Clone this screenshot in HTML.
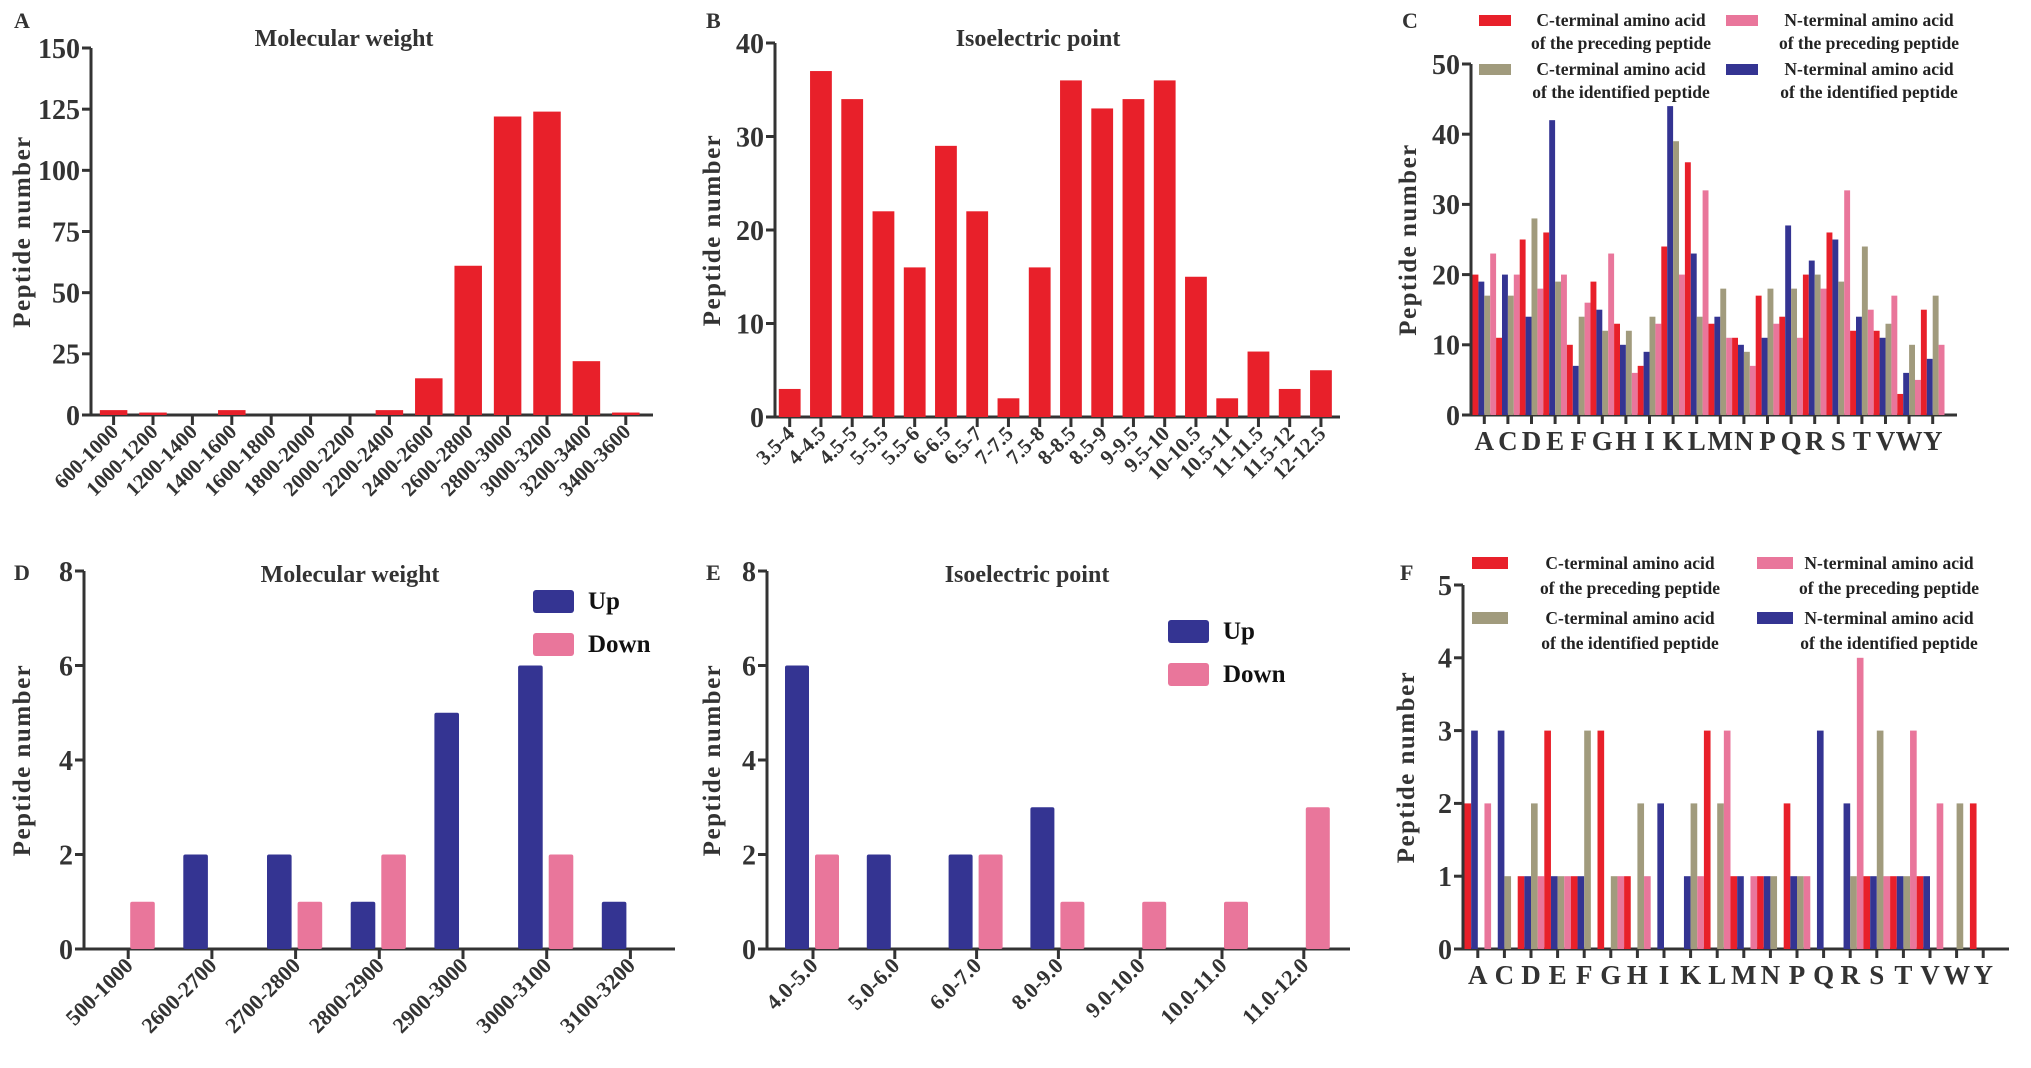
<!DOCTYPE html>
<html><head><meta charset="utf-8"><style>
html,body{margin:0;padding:0;background:#fff;}
svg{display:block;font-family:"Liberation Serif",serif;font-weight:bold;}
</style></head><body>
<svg id="fig" width="2031" height="1068" viewBox="0 0 2031 1068" xmlns="http://www.w3.org/2000/svg"></svg>
<script>
// Panel A
const catsA = ["600-1000","1000-1200","1200-1400","1400-1600","1600-1800","1800-2000","2000-2200","2200-2400","2400-2600","2600-2800","2800-3000","3000-3200","3200-3400","3400-3600"];
const valsA = [2,1,0,2,0,0,0,2,15,61,122,124,22,1];
const ticksA = [0,25,50,75,100,125,150];
// Panel B
const catsB = ["3.5-4","4-4.5","4.5-5","5-5.5","5.5-6","6-6.5","6.5-7","7-7.5","7.5-8","8-8.5","8.5-9","9-9.5","9.5-10","10-10.5","10.5-11","11-11.5","11.5-12","12-12.5"];
const valsB = [3,37,34,22,16,29,22,2,16,36,33,34,36,15,2,7,3,5];
const ticksB = [0,10,20,30,40];
// Panel C (amino acids)
const aa = ["A","C","D","E","F","G","H","I","K","L","M","N","P","Q","R","S","T","V","W","Y"];
const cPrecC = [20,11,25,26,10,19,13,7,24,36,13,11,17,14,20,26,12,12,3,15];
const cIdentN = [19,20,14,42,7,15,10,9,44,23,14,10,11,27,22,25,14,11,6,8];
const cIdentC = [17,17,28,19,14,12,12,14,39,14,18,9,18,18,20,19,24,13,10,17];
const cPrecN = [23,20,18,20,16,23,6,13,20,32,11,7,13,11,18,32,15,17,5,10];
const ticksC = [0,10,20,30,40,50];
// Panel D
const catsD = ["500-1000","2600-2700","2700-2800","2800-2900","2900-3000","3000-3100","3100-3200"];
const upD = [0,2,2,1,5,6,1];
const downD = [1,0,1,2,0,2,0];
// Panel E
const catsE = ["4.0-5.0","5.0-6.0","6.0-7.0","8.0-9.0","9.0-10.0","10.0-11.0","11.0-12.0"];
const upE = [6,2,2,3,0,0,0];
const downE = [2,0,2,1,1,1,3];
const ticksDE = [0,2,4,6,8];
// Panel F
const fPrecC = [2,0,1,3,1,3,1,0,0,3,1,1,2,0,0,1,1,1,0,2];
const fIdentN = [3,3,1,1,1,0,0,2,1,0,1,1,1,3,2,1,1,1,0,0];
const fIdentC = [0,1,2,1,3,1,2,0,2,2,0,1,1,0,1,3,1,0,2,0];
const fPrecN = [2,0,1,1,0,1,1,0,1,3,1,0,1,0,4,1,3,2,0,0];
const ticksF = [0,1,2,3,4,5];

const RED="#e8202a", NAVY="#343492", TAN="#a19b7d", PINK="#e9769b", AX="#333";
const svg=document.getElementById('fig');
const NS="http://www.w3.org/2000/svg";
function mk(tag,attrs,parent){const e=document.createElementNS(NS,tag);for(const k in attrs)e.setAttribute(k,attrs[k]);(parent||svg).appendChild(e);return e;}
function txt(s,attrs,parent){const e=mk('text',attrs,parent);e.textContent=s;return e;}

function axes(g,P,ticks,max){
  const y=v=>P.y0-(v/max)*(P.y0-P.yt);
  mk('line',{x1:P.x0,y1:P.yt,x2:P.x0,y2:P.y0+1.5,stroke:AX,'stroke-width':3},g);
  mk('line',{x1:P.x0-1.5,y1:P.y0,x2:P.xe,y2:P.y0,stroke:AX,'stroke-width':3},g);
  ticks.forEach(t=>{
    mk('line',{x1:P.x0-9,y1:y(t),x2:P.x0,y2:y(t),stroke:AX,'stroke-width':3},g);
    const l=txt(String(t),{x:P.x0-11,y:y(t)+P.fs*0.35,'text-anchor':'end','font-size':P.fs,fill:AX},g);
    
    
  });
  const yl=txt("Peptide  number",{x:0,y:0,transform:`translate(${P.ylx},${(P.yt+P.y0)/2}) rotate(-90)`,'text-anchor':'middle','font-size':25,'letter-spacing':1.5,'xml:space':'preserve',fill:AX},g);
  
  
  return y;
}
function letter(s,x,y){const t=txt(s,{x:x,y:y,'font-size':22,fill:AX});}
function title(s,x,y){const t=txt(s,{x:x,y:y,'text-anchor':'middle','font-size':24,fill:AX});}
function xlabel(g,s,x,y0,fs){
  const t=txt(s,{x:0,y:0,transform:`translate(${x+6},${y0+18}) rotate(-45)`,'text-anchor':'end','font-size':fs,fill:AX},g);
  
  
}

function simpleBar(name,P,cats,vals,ticks,max){
  const g=mk('g',{});
  const y=axes(g,P,ticks,max);
  cats.forEach((c,i)=>{
    const cx=P.t0+i*P.sp;
    const r=mk('rect',{x:cx-P.bw/2,y:y(vals[i]),width:P.bw,height:P.y0-y(vals[i]),fill:RED},g);
    
    
    mk('line',{x1:cx,y1:P.y0,x2:cx,y2:P.y0+10,stroke:AX,'stroke-width':3},g);
    xlabel(g,c,cx,P.y0,P.xfs);
  });
}
function updown(name,P,cats,up,down,max){
  const g=mk('g',{});
  const y=axes(g,P,ticksDE,max);
  cats.forEach((c,i)=>{
    const cx=P.t0+i*P.sp;
    if(up[i]>0){const r=mk('rect',{x:cx-4-P.bw,y:y(up[i]),width:P.bw,height:P.y0-y(up[i]),fill:NAVY,rx:2},g);
      }
    if(down[i]>0){const r=mk('rect',{x:cx+2,y:y(down[i]),width:P.bw,height:P.y0-y(down[i]),fill:PINK,rx:2},g);
      }
    mk('line',{x1:cx,y1:P.y0,x2:cx,y2:P.y0+10,stroke:AX,'stroke-width':3},g);
    xlabel(g,c,cx,P.y0,22);
  });
  [[NAVY,'Up',P.ly1],[PINK,'Down',P.ly2]].forEach(([col,s,ly])=>{
    const r=mk('rect',{x:P.lx,y:ly,width:41,height:23,fill:col,rx:3},g);
    
    const t=txt(s,{x:P.lx+55,y:ly+19,'font-size':25,fill:'#111'},g);
    
  });
}
function aaChart(name,P,s1,s2,s3,s4,ticks,max,L){
  const g=mk('g',{});
  const y=axes(g,P,ticks,max);
  const series=[[s1,RED],[s2,NAVY],[s3,TAN],[s4,PINK]];
  const bw=P.gw/4;
  aa.forEach((a,i)=>{
    const gx=P.x0+1.5+i*P.gw;
    series.forEach(([s,col],k)=>{
      if(s[i]>0){const r=mk('rect',{x:gx+k*bw,y:y(s[i]),width:bw,height:P.y0-y(s[i]),fill:col},g);
        }
    });
    const cx=gx+P.gw/2;
    mk('line',{x1:cx,y1:P.y0,x2:cx,y2:P.y0+9,stroke:AX,'stroke-width':3},g);
    const t=txt(a,{x:cx,y:P.y0+35,'text-anchor':'middle','font-size':27,fill:AX},g);
    
  });
  const leg=[[RED,"C-terminal amino acid","of  the preceding peptide",L.x1,L.y1,L.tx1],
             [TAN,"C-terminal amino acid","of  the identified peptide",L.x1,L.y2,L.tx1],
             [PINK,"N-terminal amino acid","of  the preceding peptide",L.x2,L.y1,L.tx2],
             [NAVY,"N-terminal amino acid","of  the identified peptide",L.x2,L.y2,L.tx2]];
  leg.forEach(([col,a,b,x,yy,tx])=>{
    const r=mk('rect',{x:x,y:yy,width:L.w,height:L.h,fill:col},g);
    
    const t1=txt(a,{x:tx,y:yy+L.h,'text-anchor':'middle','font-size':17.5,fill:'#222'},g);
    
    const t2=txt(b,{x:tx,y:yy+L.h+L.dl,'text-anchor':'middle','font-size':17.5,fill:'#222'},g);
    
  });
}

letter("A",14,28); title("Molecular weight",344,46);
simpleBar('panel-a-chart',{x0:91,xe:653,yt:48,y0:415,t0:113.6,sp:39.4,bw:27.5,fs:28,xfs:21,ylx:30},catsA,valsA,ticksA,150);

letter("B",706,28); title("Isoelectric point",1038,46);
simpleBar('panel-b-chart',{x0:775,xe:1340,yt:43,y0:417,t0:789.7,sp:31.25,bw:21.8,fs:28,xfs:21,ylx:720},catsB,valsB,ticksB,40);

letter("C",1402,28);
aaChart('panel-c-chart',{x0:1471,xe:1957,yt:64,y0:415,gw:23.6,fs:28,ylx:1416},cPrecC,cIdentN,cIdentC,cPrecN,ticksC,50,
  {x1:1479,x2:1726,y1:15,y2:64,w:32,h:11,tx1:1621,tx2:1869,dl:23});

letter("D",14,580); title("Molecular weight",350,582);
updown('panel-d-chart',{x0:84,xe:675,yt:571,y0:949,t0:128.2,sp:83.7,bw:24.6,fs:28,ylx:30,lx:533,ly1:590,ly2:633},catsD,upD,downD,8);

letter("E",706,580); title("Isoelectric point",1027,582);
updown('panel-e-chart',{x0:767,xe:1350,yt:571,y0:949,t0:813,sp:81.8,bw:24,fs:28,ylx:720,lx:1168,ly1:620,ly2:663},catsE,upE,downE,8);

letter("F",1400,580);
aaChart('panel-f-chart',{x0:1463,xe:2009,yt:585,y0:949,gw:26.6,fs:28,ylx:1414},fPrecC,fIdentN,fIdentC,fPrecN,ticksF,5,
  {x1:1472,x2:1757,y1:557,y2:612,w:36,h:12,tx1:1630,tx2:1889,dl:25});
</script>
</body></html>
